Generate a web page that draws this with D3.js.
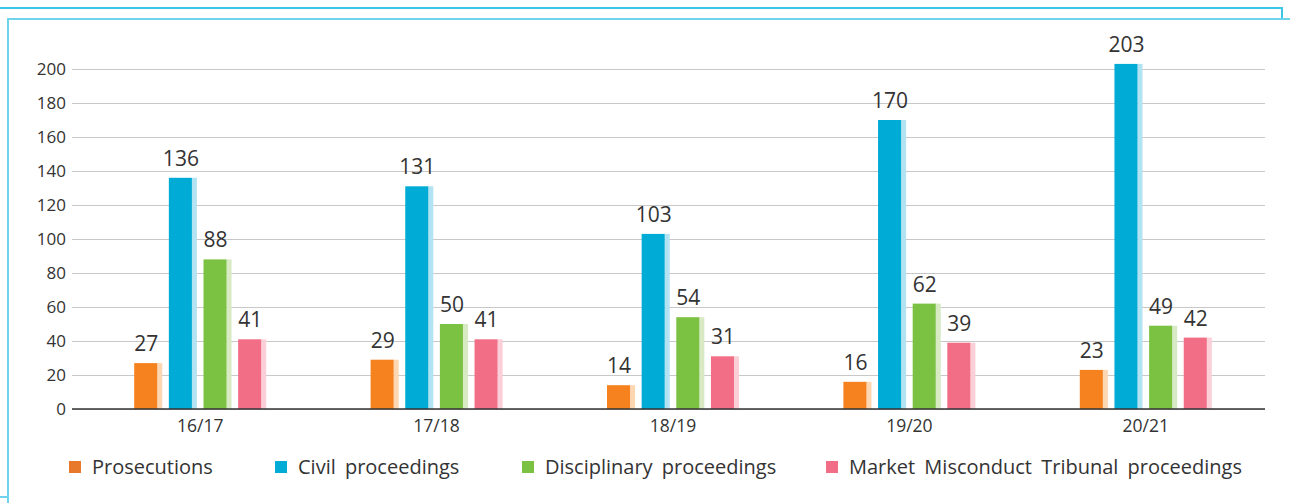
<!DOCTYPE html>
<html>
<head>
<meta charset="utf-8">
<script src="https://cdn.jsdelivr.net/npm/d3@7"></script>
<style>
  body { margin: 0; background: #fff; }
  svg text { font-family: "Open Sans", "Noto Sans", sans-serif; fill: #333; }
</style>
</head>
<body>
<div id="chart"></div>
<script>
// data
const years = ["16/17", "17/18", "18/19", "19/20", "20/21"];
const seriesNames = ["Prosecutions", "Civil proceedings", "Disciplinary proceedings", "Market Misconduct Tribunal proceedings"];
const prosecutions = [27, 29, 14, 16, 23];
const civil = [136, 131, 103, 170, 203];
const disciplinary = [88, 50, 54, 62, 49];
const mmt = [41, 41, 31, 39, 42];
const yTicks = [0, 20, 40, 60, 80, 100, 120, 140, 160, 180, 200];

const colors = ["#f5821f", "#00abd6", "#7cc242", "#f26e86"];
const shades = ["#fdd6b2", "#b2e3f2", "#d7eac4", "#fbcfd7"];

const width = 1290, height = 503;
const seriesValues = [prosecutions, civil, disciplinary, mmt];

const svg = d3.select("#chart")
  .append("svg")
  .attr("width", width)
  .attr("height", height);

// frame lines of the page box
const frame = svg.append("g").attr("fill", "none").attr("stroke-width", 2);
frame.append("path").attr("stroke", "#3ec6e6").attr("d", "M0,8H1282V19");
frame.append("path").attr("stroke", "#6fd3ec").attr("d", "M1290,19H8V503");
frame.append("path").attr("stroke", "#6fd3ec").attr("d", "M0,497H8");

// scales
const x0 = d3.scaleBand().domain(years).range([82, 1264]).paddingInner(0);
const x1 = d3.scaleBand().domain(seriesNames).range([-66, 66]).paddingInner(0.19);
const y = d3.scaleLinear().domain([0, 200]).range([409, 69]);

// gridlines + y labels
const yAxis = svg.append("g")
  .attr("transform", "translate(72,0)")
  .call(d3.axisLeft(y).tickValues(yTicks).tickSize(-1193).tickPadding(6));
yAxis.select(".domain").remove();
yAxis.selectAll(".tick line").attr("stroke", "#c8c8c8").attr("stroke-width", 1.2);
yAxis.selectAll(".tick text").attr("font-size", 17).attr("fill", "#333");

// bars
const groups = svg.append("g").selectAll("g")
  .data(years)
  .join("g")
  .attr("transform", d => `translate(${x0(d) + x0.bandwidth() / 2},0)`);

const bw = x1.bandwidth();
const shadeW = 5;

groups.each(function (yr, i) {
  const g = d3.select(this);
  const rows = seriesNames.map((s, k) => ({ s, k, v: seriesValues[k][i] }));
  g.selectAll("rect.shade")
    .data(rows)
    .join("rect")
    .attr("class", "shade")
    .attr("x", d => x1(d.s) + bw - shadeW)
    .attr("width", shadeW)
    .attr("y", d => y(d.v))
    .attr("height", d => y(0) - y(d.v))
    .attr("fill", d => shades[d.k]);
  g.selectAll("rect.main")
    .data(rows)
    .join("rect")
    .attr("class", "main")
    .attr("x", d => x1(d.s))
    .attr("width", bw - shadeW)
    .attr("y", d => y(d.v))
    .attr("height", d => y(0) - y(d.v))
    .attr("fill", d => colors[d.k]);
  g.selectAll("text.val")
    .data(rows)
    .join("text")
    .attr("class", "val")
    .attr("x", d => x1(d.s) + bw / 2 - 2)
    .attr("y", d => y(d.v) - 12)
    .attr("text-anchor", "middle")
    .attr("font-size", 21)
    .text(d => d.v);
});

// baseline
svg.append("line")
  .attr("x1", 72).attr("x2", 1265)
  .attr("y1", y(0)).attr("y2", y(0))
  .attr("stroke", "#333").attr("stroke-width", 1.5);

// x labels
svg.append("g").selectAll("text")
  .data(years)
  .join("text")
  .attr("x", d => x0(d) + x0.bandwidth() / 2)
  .attr("y", 432)
  .attr("text-anchor", "middle")
  .attr("font-size", 17.5)
  .text(d => d);

// legend
const legendX = [92, 298, 545, 849];
const legend = svg.append("g").selectAll("g")
  .data(seriesNames)
  .join("g")
  .attr("transform", (d, i) => `translate(${legendX[i]},461)`);
legend.append("rect")
  .attr("x", -23)
  .attr("width", 12).attr("height", 12)
  .attr("fill", (d, i) => i === 0 ? "#e8782a" : colors[i]);
legend.append("text")
  .attr("y", 13)
  .attr("font-size", 20)
  .attr("word-spacing", 4)
  .text(d => d);
</script>
</body>
</html>
